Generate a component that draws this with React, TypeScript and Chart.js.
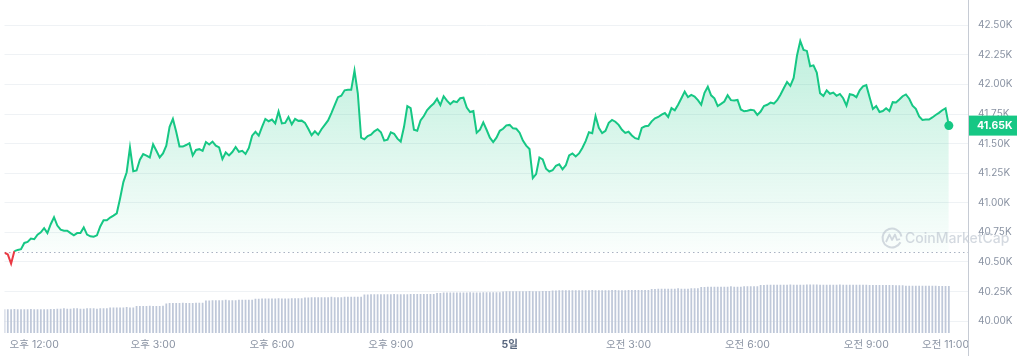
import React, { useEffect, useRef } from "react";
import { Chart, registerables } from "chart.js";

Chart.register(...registerables);

const FONT = "Inter, 'Noto Sans CJK KR', sans-serif";
const GREEN = "#16c784";
const RED = "#ea3943";

// time in minutes from 00:00 of day 4 (11:15 start, 5-minute samples)
const START_MINUTE = 675;
const STEP_MINUTES = 5;
const X_MAX_MINUTE = 2134;

const OPEN_PRICE = 40585;

const PRICES: number[] = [
  40578, 40564, 40486, 40592, 40602, 40608, 40661, 40669, 40698, 40692,
  40731, 40750, 40786, 40744, 40819, 40878, 40808, 40773, 40764, 40764,
  40744, 40725, 40744, 40744, 40792, 40731, 40717, 40714, 40725, 40800,
  40853, 40853, 40875, 40892, 40911, 41036, 41175, 41258, 41467, 41267,
  41273, 41364, 41411, 41398, 41383, 41494, 41439, 41383, 41417,
  41483, 41642, 41708, 41600, 41475, 41475, 41488, 41503, 41400, 41446,
  41453, 41438, 41513, 41492, 41517, 41483, 41467, 41369, 41425, 41400,
  41429, 41471, 41431, 41439, 41413, 41463, 41567, 41600, 41567, 41642,
  41708, 41689, 41703, 41671, 41771, 41671, 41675, 41725, 41663, 41708,
  41692, 41694, 41675, 41625, 41571, 41604, 41575, 41621,
  41658, 41696, 41758, 41825, 41892, 41904, 41950, 41954, 41954, 42117,
  41925, 41550, 41536, 41563, 41575, 41604, 41621, 41596, 41525, 41533,
  41596, 41583, 41542, 41517, 41642, 41817, 41800, 41617, 41608, 41696,
  41733, 41783, 41813, 41838, 41879, 41825, 41900, 41863, 41833, 41858,
  41850, 41883, 41888, 41804, 41767, 41775, 41592, 41617,
  41679, 41617, 41550, 41513, 41550, 41608, 41625, 41654, 41658, 41629,
  41625, 41592, 41525, 41483, 41454, 41208, 41242, 41383, 41367, 41288,
  41264, 41275, 41313, 41325, 41283, 41317, 41400, 41417, 41392, 41417,
  41463, 41521, 41596, 41588, 41733, 41633, 41588, 41608, 41675, 41700,
  41685, 41658, 41617, 41590, 41600, 41569, 41546, 41538,
  41633, 41646, 41650, 41688, 41713, 41725, 41744, 41758, 41725, 41800,
  41781, 41828, 41883, 41939, 41892, 41911, 41898, 41867, 41828, 41929,
  41981, 41908, 41883, 41817, 41836, 41856, 41908, 41867, 41864, 41869,
  41788, 41773, 41778, 41786, 41781, 41742, 41771, 41817, 41828, 41846,
  41838, 41867, 41913, 41967, 42021, 41988, 42054, 42242, 42367,
  42292, 42283, 42153, 42161, 42100, 41925, 41903, 41950, 41921, 41931,
  41904, 41919, 41883, 41821, 41917, 41911, 41892, 41950, 41983, 41994,
  41892, 41792, 41817, 41767, 41775, 41798, 41775, 41850, 41848, 41873,
  41900, 41915, 41879, 41821, 41794, 41729, 41700, 41703, 41703, 41721,
  41742, 41760, 41782, 41798, 41652,
];

// 24h volume (billions)
const VOLUMES: number[] = [
  7.1, 7.1, 7.1, 7.2, 7.1, 7.1, 7.1, 7.1, 7.2, 7.1, 7.1, 7.1, 7.1, 7.1, 7.2, 7.2,
  7.3, 7.3, 7.4, 7.3, 7.3, 7.4, 7.4, 7.3, 7.3, 7.4, 7.4, 7.4, 7.3, 7.4, 7.4, 7.4,
  7.7, 7.7, 7.7, 7.7, 7.7, 7.8, 7.7, 7.7,
  8.1, 8.1, 8.1, 8.1, 8.2, 8.1, 8.1, 8.1, 8.2,
  8.9, 9.0, 9.0, 9.0, 9.0, 9.1, 9.0, 9.0, 9.0, 9.1, 9.1, 9.1,
  9.8, 9.8, 9.9, 9.9, 9.9, 9.9, 10.0, 9.9, 9.9, 9.9, 10.0, 10.0, 10.0, 10.0, 10.0,
  10.3, 10.3, 10.4, 10.4, 10.4, 10.4, 10.4, 10.5, 10.4, 10.4, 10.4, 10.5, 10.5, 10.5, 10.5,
  10.7, 10.7, 10.8, 10.8, 10.8, 10.8, 10.8, 10.8, 10.9, 10.8, 10.8, 10.8, 10.9, 10.9, 10.9, 10.9, 10.9, 10.9,
  11.6, 11.6, 11.7, 11.7, 11.7, 11.7, 11.7, 11.7, 11.7, 11.8, 11.7, 11.7, 11.7, 11.7, 11.8, 11.8, 11.8, 11.8, 11.8, 11.8, 11.8, 11.8,
  12.1, 12.1, 12.2, 12.2, 12.2, 12.2, 12.2, 12.2, 12.2, 12.2, 12.3, 12.2, 12.2, 12.2, 12.3, 12.3, 12.3, 12.3, 12.3, 12.3,
  12.5, 12.6, 12.6, 12.6, 12.6, 12.6, 12.6, 12.6, 12.7, 12.6, 12.6, 12.6, 12.7, 12.7, 12.7,
  12.8, 12.8, 12.9, 12.9, 12.9, 12.9, 12.9, 12.9, 12.9, 12.9, 12.9, 12.9, 13.0, 12.9, 12.9,
  12.9, 12.9, 12.9, 13.0, 13.0, 12.9, 12.9, 12.9, 13.0, 13.0, 13.0, 13.0, 13.0, 13.0, 13.0,
  13.3, 13.3, 13.4, 13.4, 13.4, 13.4, 13.4, 13.4, 13.5, 13.4, 13.4, 13.4, 13.5, 13.5, 13.5,
  13.9, 13.9, 14.0, 14.0, 14.0, 14.0, 14.0, 14.0, 14.0, 14.1, 14.0, 14.0, 14.0, 14.1, 14.1, 14.1, 14.1, 14.1,
  14.5, 14.5, 14.6, 14.6, 14.6, 14.6, 14.6, 14.6, 14.6, 14.7, 14.6, 14.6, 14.6, 14.6, 14.7, 14.7, 14.7, 14.7, 14.6, 14.6, 14.6,
  14.6, 14.6, 14.6, 14.7, 14.6, 14.6, 14.6, 14.6, 14.6, 14.6, 14.6, 14.6, 14.5, 14.5, 14.5, 14.5, 14.5, 14.5, 14.5, 14.5, 14.4,
  14.4, 14.4, 14.3, 14.3, 14.3, 14.3, 14.3, 14.3, 14.3, 14.3, 14.3, 14.3, 14.2, 14.2, 14.2, 14.2,
];

const PRICE_TICKS = [40000, 40250, 40500, 40750, 41000, 41250, 41500, 41750, 42000, 42250, 42500];
const PRICE_MIN = 39900;
const PRICE_MAX = 42675;

const TIME_TICKS = [720, 900, 1080, 1260, 1440, 1620, 1800, 1980, 2100];
const TIME_LABELS = ["오후 12:00", "오후 3:00", "오후 6:00", "오후 9:00", "5일", "오전 3:00", "오전 6:00", "오전 9:00", "오전 11:00"];

const fmtK = (v: number) => (v / 1000).toFixed(2) + "K";

const overlayPlugin = {
  id: "overlay",
  beforeDatasetsDraw(chart: any) {
    const { ctx, chartArea, scales } = chart;
    const y = Math.round(scales.y.getPixelForValue(OPEN_PRICE)) + 0.5;
    ctx.save();
    ctx.strokeStyle = "#a9b2c2";
    ctx.lineWidth = 1;
    ctx.setLineDash([1.5, 3]);
    ctx.beginPath();
    ctx.moveTo(chartArea.left, y);
    ctx.lineTo(chartArea.right, y);
    ctx.stroke();
    ctx.restore();
  },
  afterDatasetsDraw(chart: any) {
    const { ctx, chartArea } = chart;
    const cx = chartArea.right - 76;
    const cy = chartArea.bottom - 95;
    ctx.save();
    ctx.globalAlpha = 0.6;
    ctx.strokeStyle = "#b7bfcc";
    ctx.fillStyle = "#b7bfcc";
    ctx.lineWidth = 2;
    ctx.beginPath();
    ctx.arc(cx, cy, 9.5, Math.PI * 0.15, Math.PI * 1.95);
    ctx.stroke();
    ctx.lineWidth = 1.8;
    ctx.lineJoin = "round";
    ctx.beginPath();
    ctx.moveTo(cx - 6, cy + 4);
    ctx.lineTo(cx - 2.5, cy - 3.5);
    ctx.lineTo(cx, cy + 2);
    ctx.lineTo(cx + 3, cy - 3.5);
    ctx.lineTo(cx + 5, cy + 2);
    ctx.lineTo(cx + 8, cy + 1);
    ctx.stroke();
    ctx.font = `500 14px ${FONT}`;
    ctx.textBaseline = "middle";
    ctx.textAlign = "left";
    ctx.fillText("CoinMarketCap", cx + 13, cy + 1);
    ctx.restore();
  },
  afterDraw(chart: any) {
    const { ctx, chartArea, scales, height } = chart;
    ctx.save();
    ctx.strokeStyle = "#c6cbd4";
    ctx.lineWidth = 1;
    ctx.beginPath();
    ctx.moveTo(chartArea.right + 0.5, 0);
    ctx.lineTo(chartArea.right + 0.5, height);
    ctx.stroke();
    const last = PRICES[PRICES.length - 1];
    const y = scales.y.getPixelForValue(last);
    ctx.fillStyle = GREEN;
    ctx.fillRect(chartArea.right + 1, y - 10, 48, 20);
    ctx.fillStyle = "#ffffff";
    ctx.font = `bold 10.5px ${FONT}`;
    ctx.textBaseline = "middle";
    ctx.textAlign = "left";
    ctx.fillText(fmtK(last), chartArea.right + 9, y + 0.5);
    ctx.restore();
  },
};

export default function App() {
  const canvasRef = useRef<HTMLCanvasElement | null>(null);

  useEffect(() => {
    const canvas = canvasRef.current;
    if (!canvas) return;

    const priceData = PRICES.map((p, i) => ({ x: START_MINUTE + i * STEP_MINUTES, y: p }));
    const volumeData = VOLUMES.map((v, i) => ({ x: START_MINUTE + i * STEP_MINUTES, y: v }));

    const chart = new Chart(canvas, {
      type: "line",
      data: {
        datasets: [
          {
            type: "line",
            data: priceData,
            yAxisID: "y",
            order: 1,
            borderColor: GREEN,
            borderWidth: 2,
            tension: 0,
            segment: {
              borderColor: (ctx: any) =>
                ctx.p0.parsed.y < OPEN_PRICE || ctx.p1.parsed.y < OPEN_PRICE ? RED : GREEN,
            },
            pointRadius: (ctx: any) => (ctx.dataIndex === PRICES.length - 1 ? 4.5 : 0),
            pointHoverRadius: 0,
            pointBackgroundColor: GREEN,
            pointBorderWidth: 0,
            backgroundColor: (ctx: any) => {
              const c = ctx.chart;
              const area = c.chartArea;
              if (!area || !c.scales || !c.scales.y) return "rgba(22,199,132,0.15)";
              const base = c.scales.y.getPixelForValue(OPEN_PRICE);
              const g = c.ctx.createLinearGradient(0, area.top, 0, base);
              g.addColorStop(0, "rgba(22,199,132,0.32)");
              g.addColorStop(1, "rgba(22,199,132,0.02)");
              return g;
            },
            fill: { target: { value: OPEN_PRICE }, below: "rgba(234,57,67,0.05)" },
          } as any,
          {
            type: "bar",
            data: volumeData,
            yAxisID: "vol",
            order: 2,
            backgroundColor: "#bfc8d9",
            barThickness: 1.1,
          } as any,
        ],
      },
      options: {
        animation: false,
        responsive: true,
        maintainAspectRatio: false,
        layout: { padding: 0 },
        events: [],
        plugins: { legend: { display: false }, tooltip: { enabled: false } },
        scales: {
          x: {
            type: "linear",
            min: START_MINUTE,
            max: X_MAX_MINUTE,
            offset: false,
            grid: { display: false, drawTicks: false },
            border: { display: false },
            afterBuildTicks: (s: any) => {
              s.ticks = TIME_TICKS.map((v) => ({ value: v }));
            },
            afterFit: (s: any) => {
              s.height = 23;
              s.paddingLeft = 0;
              s.paddingRight = 0;
            },
            ticks: {
              autoSkip: false,
              maxRotation: 0,
              padding: 6,
              callback: (_v: any, i: number) => TIME_LABELS[i],
              color: (ctx: any) => (ctx.index === 4 ? "#58667e" : "#8a93a3"),
              font: (ctx: any) => ({ family: FONT, size: 10.5, weight: ctx.index === 4 ? "bold" : "normal" }),
            },
          },
          y: {
            type: "linear",
            position: "right",
            min: PRICE_MIN,
            max: PRICE_MAX,
            grid: { color: "#eff2f5", drawTicks: false },
            border: { display: false },
            afterBuildTicks: (s: any) => {
              s.ticks = PRICE_TICKS.map((v) => ({ value: v }));
            },
            afterFit: (s: any) => {
              s.width = 50;
              s.paddingTop = 0;
              s.paddingBottom = 0;
            },
            ticks: {
              padding: 10,
              color: "#8a93a3",
              font: { family: FONT, size: 10 },
              callback: (v: any) => fmtK(Number(v)),
            },
          },
          vol: {
            type: "linear",
            display: false,
            min: 0,
            max: 100,
          },
        },
      } as any,
      plugins: [overlayPlugin],
    });

    return () => chart.destroy();
  }, []);

  return (
    <div style={{ position: "fixed", left: 0, top: 0, width: 1018, height: 356, background: "#ffffff" }}>
      <canvas ref={canvasRef} />
    </div>
  );
}
